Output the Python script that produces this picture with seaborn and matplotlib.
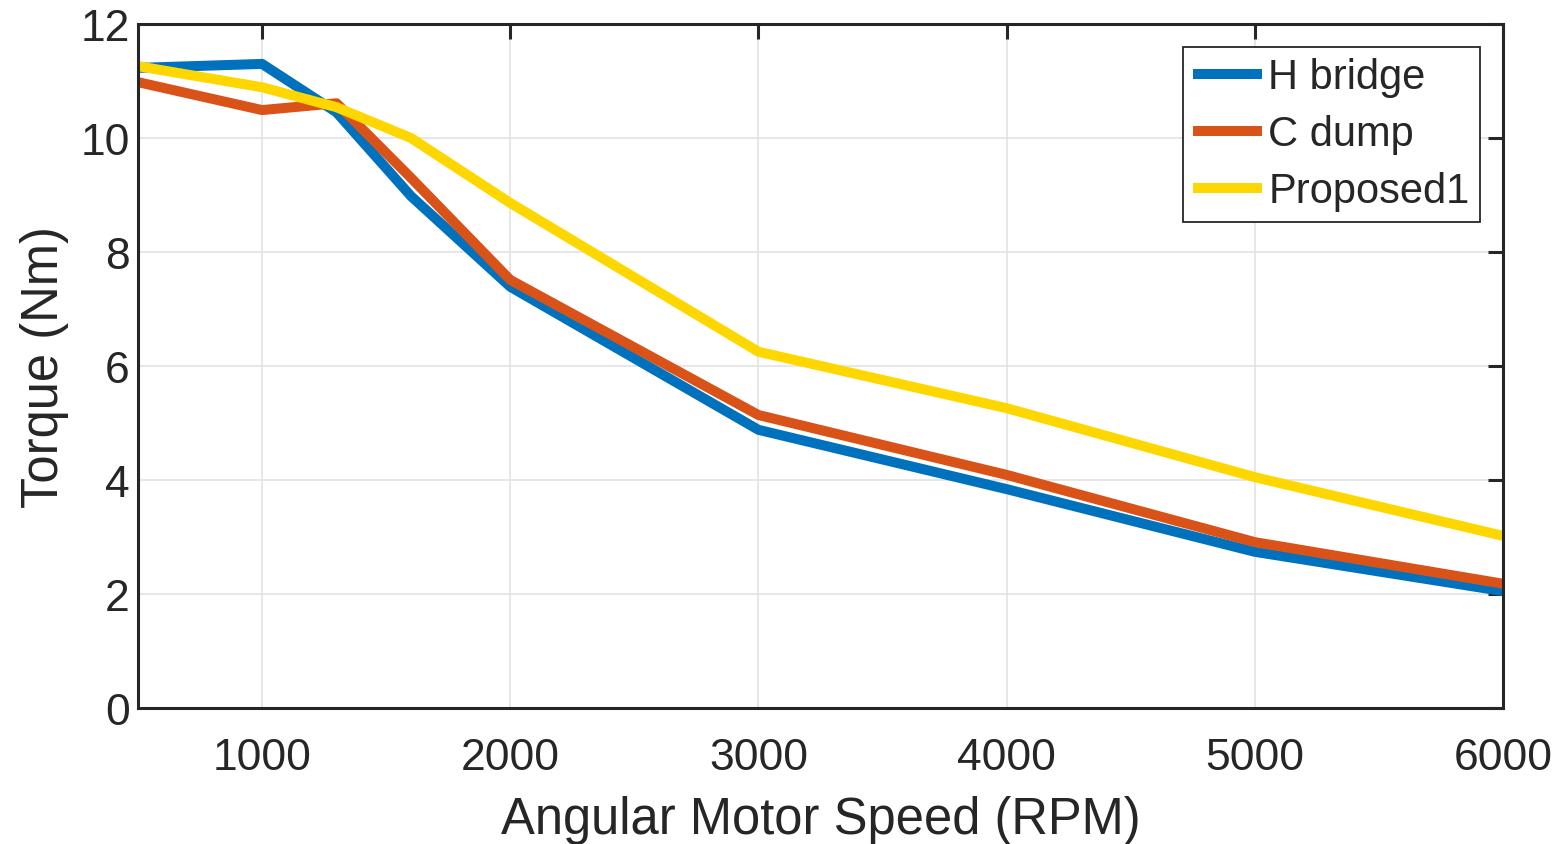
import numpy as np
import pandas as pd
import matplotlib
matplotlib.use("Agg")
import matplotlib.pyplot as plt
import seaborn as sns

# Torque vs. speed for three converter topologies
speed_rpm = [500, 1000, 1300, 1600, 2000, 3000, 4000, 5000, 6000]
h_bridge = [11.23, 11.30, 10.45, 8.98, 7.39, 4.88, 3.84, 2.74, 2.05]
c_dump = [10.98, 10.49, 10.61, 9.30, 7.51, 5.14, 4.09, 2.91, 2.18]
proposed1 = [11.26, 10.89, 10.54, 10.00, 8.86, 6.25, 5.26, 4.05, 3.02]

series_names = ["H bridge", "C dump", "Proposed1"]
palette = {"H bridge": "#0072BD", "C dump": "#D95319", "Proposed1": "#FFD700"}

df = pd.concat([
    pd.DataFrame({"speed": speed_rpm, "torque": vals, "series": name})
    for name, vals in zip(series_names, [h_bridge, c_dump, proposed1])
], ignore_index=True)

sns.set_theme(style="white")
plt.rcParams["font.family"] = ["Liberation Sans", "DejaVu Sans"]

fig = plt.figure(figsize=(15.66, 8.45), dpi=100)
ax = fig.add_axes([138 / 1566, 1 - 709 / 845, (1503 - 138) / 1566, (709 - 25) / 845])

sns.lineplot(data=df, x="speed", y="torque", hue="series", hue_order=series_names,
             palette=palette, linewidth=7.2, ax=ax, sort=False, estimator=None)

ax.set_xlim(500, 6000)
ax.set_ylim(0, 12)
ax.set_xticks([1000, 2000, 3000, 4000, 5000, 6000])
ax.set_yticks([0, 2, 4, 6, 8, 10, 12])
ax.grid(True, color="#e3e3e3", linewidth=1.2)
ax.set_axisbelow(True)

for s in ax.spines.values():
    s.set_visible(True)
    s.set_color("#262626")
    s.set_linewidth(2.2)

ax.tick_params(axis="both", direction="in", length=10.5, width=2.2, color="#262626",
               labelsize=32, labelcolor="#262626", top=True, right=True)
ax.tick_params(axis="x", pad=21)
ax.tick_params(axis="y", pad=6)

ax.set_xlabel("Angular Motor Speed (RPM)", fontsize=36.5, color="#262626", labelpad=12)
ax.set_ylabel("Torque (Nm)", fontsize=36.5, color="#262626", labelpad=8)

leg = ax.legend(loc="upper right", fontsize=30, frameon=True, fancybox=False,
                edgecolor="#262626", framealpha=1, handlelength=1.65,
                borderaxespad=0.55, labelspacing=0.41, handletextpad=0.15,
                borderpad=0.25)
leg.get_frame().set_linewidth(1.3)
for h in leg.get_lines():
    h.set_linewidth(7.2)
    h.set_solid_capstyle("butt")

fig.savefig("out.png", dpi=100)
